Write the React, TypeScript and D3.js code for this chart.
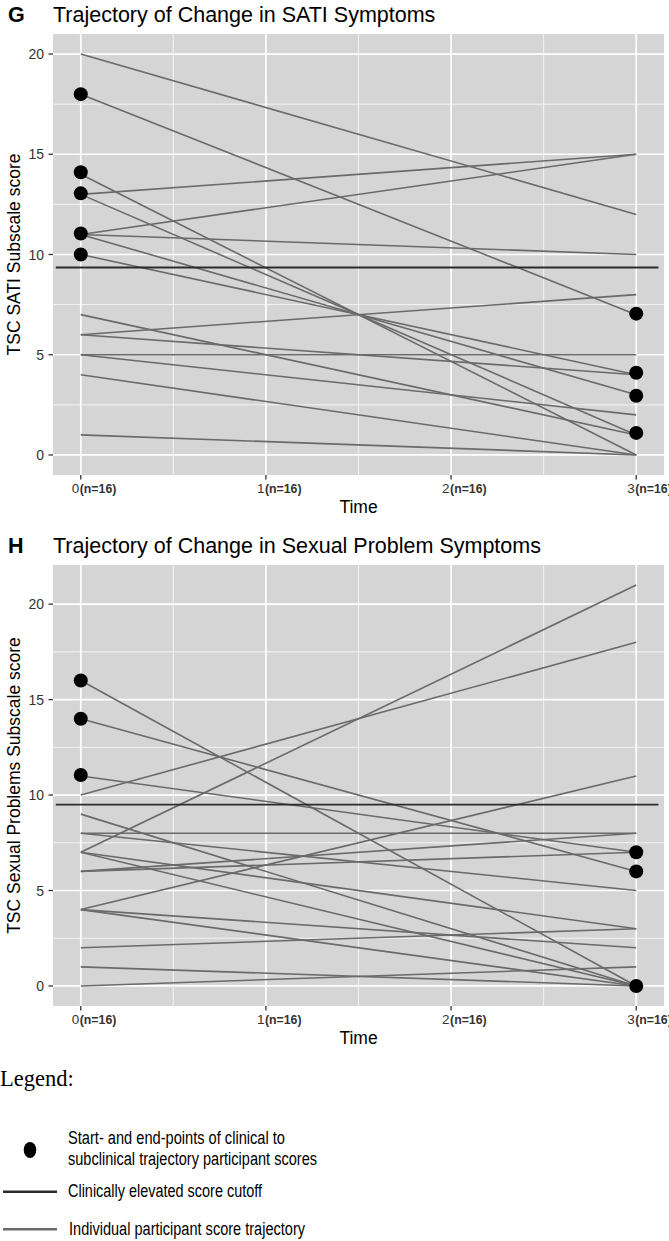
import React from "react";
import * as d3 from "d3";

// ---------- data ----------
const timeTicks = [0, 1, 2, 3];
const timeTickSuffix = "(n=16)";
const yTicks = [0, 5, 10, 15, 20];

// Panel G: SATI
const satiStart = [20, 18, 14, 13, 13, 11, 11, 11, 10, 7, 6, 6, 5, 5, 4, 1];
const satiEnd = [12, 7, 0, 15, 1, 15, 10, 3, 4, 1, 8, 4, 5, 2, 0, 0];
const satiDotsStart = [18, 14.1, 13.05, 11.05, 10];
const satiDotsEnd = [7.05, 4.1, 2.95, 1.1];
const satiCutoff = 9.35;

// Panel H: Sexual problems
const sexStart = [16, 14, 11, 10, 9, 8, 8, 7, 7, 7, 6, 6, 4, 4, 4, 2, 1, 0];
const sexEnd = [0, 6, 7, 18, 0, 8, 5, 21, 3, 0, 8, 7, 11, 2, 0, 3, 0, 1];
const sexDotsStart = [16, 14, 11.05];
const sexDotsEnd = [7, 6, 0];
const sexCutoff = 9.5;

const legendItems = [
  "Start- and end-points of clinical to",
  "subclinical trajectory participant scores",
  "Clinically elevated score cutoff",
  "Individual participant score trajectory",
];

const SANS = "'Liberation Sans', Arial, Helvetica, sans-serif";
const PANEL_BG = "#d5d5d5";
const LINE_COL = "#6a6a6a";
const CUT_COL = "#2b2b2b";
const TXT = "#333333";

const X0 = 53;
const X1 = 664;

type PanelProps = {
  letter: string;
  title: string;
  yTitle: string;
  top: number;
  bottom: number;
  yDomain: [number, number];
  starts: number[];
  ends: number[];
  dotsStart: number[];
  dotsEnd: number[];
  cutoff: number;
};

function Panel(p: PanelProps) {
  const x = d3.scaleLinear().domain([-0.15, 3.15]).range([X0, X1]);
  const y = d3.scaleLinear().domain(p.yDomain).range([p.bottom, p.top]);
  const minorX = [0.5, 1.5, 2.5];
  const minorY = [2.5, 7.5, 12.5, 17.5].filter((v) => v < p.yDomain[1]);
  const line = d3
    .line<[number, number]>()
    .x((d) => x(d[0]))
    .y((d) => y(d[1]));
  const segs = p.starts.map((s, i) => [
    [0, s],
    [3, p.ends[i]],
  ] as [number, number][]);
  const yMid = (p.top + p.bottom) / 2;
  return (
    <g>
      <text x={8} y={p.top - 12} fontFamily={SANS} fontSize={21.5} fontWeight="bold" fill="#000">
        {p.letter}
      </text>
      <text x={53} y={p.top - 12} fontFamily={SANS} fontSize={21.5} fill="#000">
        {p.title}
      </text>
      <rect x={X0} y={p.top} width={X1 - X0} height={p.bottom - p.top} fill={PANEL_BG} />
      {minorY.map((v) => (
        <line key={"my" + v} x1={X0} x2={X1} y1={y(v)} y2={y(v)} stroke="#f4f4f4" strokeWidth={1} />
      ))}
      {minorX.map((v) => (
        <line key={"mx" + v} x1={x(v)} x2={x(v)} y1={p.top} y2={p.bottom} stroke="#f4f4f4" strokeWidth={1} />
      ))}
      {yTicks.map((v) => (
        <line key={"gy" + v} x1={X0} x2={X1} y1={y(v)} y2={y(v)} stroke="#ffffff" strokeWidth={1.7} />
      ))}
      {timeTicks.map((v) => (
        <line key={"gx" + v} x1={x(v)} x2={x(v)} y1={p.top} y2={p.bottom} stroke="#ffffff" strokeWidth={1.7} />
      ))}
      {segs.map((s, i) => (
        <path key={"s" + i} d={line(s) || ""} fill="none" stroke={LINE_COL} strokeWidth={1.6} />
      ))}
      <line
        x1={x(-0.135)}
        x2={x(3.12)}
        y1={y(p.cutoff)}
        y2={y(p.cutoff)}
        stroke={CUT_COL}
        strokeWidth={1.9}
      />
      {p.dotsStart.map((v, i) => (
        <circle key={"d0" + i} cx={x(0)} cy={y(v)} r={7} fill="#000" />
      ))}
      {p.dotsEnd.map((v, i) => (
        <circle key={"d3" + i} cx={x(3)} cy={y(v)} r={7} fill="#000" />
      ))}
      {yTicks.map((v) => (
        <g key={"yt" + v}>
          <line x1={X0 - 4.5} x2={X0} y1={y(v)} y2={y(v)} stroke={TXT} strokeWidth={1.3} />
          <text
            x={X0 - 9}
            y={y(v)}
            dy="0.36em"
            textAnchor="end"
            fontFamily={SANS}
            fontSize={14}
            fill={TXT}
          >
            {v}
          </text>
        </g>
      ))}
      {timeTicks.map((v) => (
        <g key={"xt" + v}>
          <line x1={x(v)} x2={x(v)} y1={p.bottom} y2={p.bottom + 4.5} stroke={TXT} strokeWidth={1.3} />
          <text
            x={x(v) - 1.5}
            y={p.bottom + 18}
            textAnchor="end"
            fontFamily={SANS}
            fontSize={13.5}
            fill={TXT}
          >
            {v}
          </text>
          <text
            x={x(v) - 1}
            y={p.bottom + 18}
            fontFamily={SANS}
            fontSize={12.3}
            fontWeight="bold"
            fill={TXT}
          >
            {timeTickSuffix}
          </text>
        </g>
      ))}
      <text
        x={(X0 + X1) / 2}
        y={p.bottom + 38}
        textAnchor="middle"
        fontFamily={SANS}
        fontSize={17.5}
        fill="#000"
      >
        Time
      </text>
      <text
        transform={`translate(20,${yMid}) rotate(-90)`}
        textAnchor="middle"
        fontFamily={SANS}
        fontSize={17.5}
        fill="#000"
      >
        {p.yTitle}
      </text>
    </g>
  );
}

export default function App() {
  const legendWidths = [217, 249, 194, 236];
  return (
    <svg
      width={669}
      height={1241}
      style={{ position: "absolute", left: 0, top: 0, background: "#fff" }}
    >
      <rect x={0} y={0} width={669} height={1241} fill="#fff" />
      <Panel
        letter="G"
        title="Trajectory of Change in SATI Symptoms"
        yTitle="TSC SATI Subscale score"
        top={34}
        bottom={475}
        yDomain={[-1, 21]}
        starts={satiStart}
        ends={satiEnd}
        dotsStart={satiDotsStart}
        dotsEnd={satiDotsEnd}
        cutoff={satiCutoff}
      />
      <Panel
        letter="H"
        title="Trajectory of Change in Sexual Problem Symptoms"
        yTitle="TSC Sexual Problems Subscale score"
        top={565}
        bottom={1006}
        yDomain={[-1.05, 22.05]}
        starts={sexStart}
        ends={sexEnd}
        dotsStart={sexDotsStart}
        dotsEnd={sexDotsEnd}
        cutoff={sexCutoff}
      />
      {/* Legend */}
      <text x={0} y={1086} fontFamily="'Liberation Serif', 'Times New Roman', serif" fontSize={22.5} fill="#000">
        Legend:
      </text>
      <ellipse cx={30} cy={1150} rx={6.3} ry={8} fill="#000" />
      <text x={68} y={1143.5} fontFamily={SANS} fontSize={18} fill="#000" textLength={legendWidths[0]} lengthAdjust="spacingAndGlyphs">
        {legendItems[0]}
      </text>
      <text x={68} y={1165} fontFamily={SANS} fontSize={18} fill="#000" textLength={legendWidths[1]} lengthAdjust="spacingAndGlyphs">
        {legendItems[1]}
      </text>
      <line x1={3} x2={57} y1={1191.7} y2={1191.7} stroke={CUT_COL} strokeWidth={2.4} />
      <text x={68} y={1197} fontFamily={SANS} fontSize={18} fill="#000" textLength={legendWidths[2]} lengthAdjust="spacingAndGlyphs">
        {legendItems[2]}
      </text>
      <line x1={3} x2={57} y1={1229.3} y2={1229.3} stroke={LINE_COL} strokeWidth={2.4} />
      <text x={69} y={1234.5} fontFamily={SANS} fontSize={18} fill="#000" textLength={legendWidths[3]} lengthAdjust="spacingAndGlyphs">
        {legendItems[3]}
      </text>
    </svg>
  );
}
